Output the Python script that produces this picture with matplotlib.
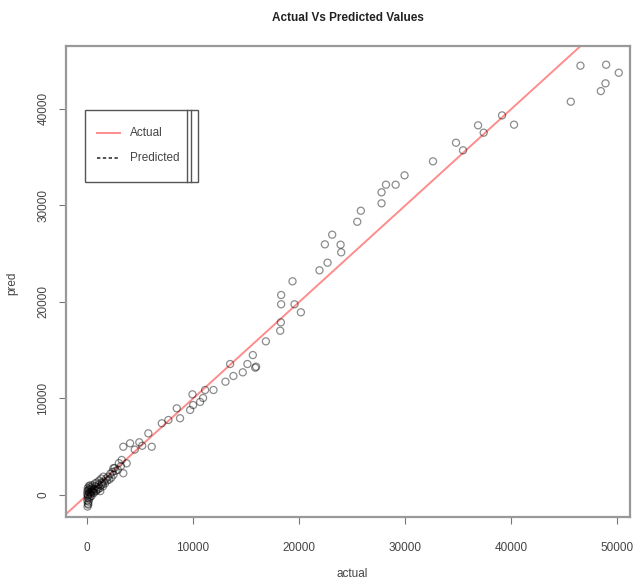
import matplotlib
matplotlib.use("Agg")
import matplotlib.pyplot as plt
from matplotlib.lines import Line2D
from matplotlib.patches import Rectangle

plt.rcParams["font.family"] = ["Liberation Sans", "DejaVu Sans"]

# ───── DATA ───────────────────────────────────────────────────
# low-value cluster near the origin
actual_low = [50, 80, 120, 30, 150, 200, 60, 100, 250, 300, 180, 400, 350, 500,
              450, 600, 700, 800, 650, 900, 1000, 1100, 1200, 1300, 1400, 1500,
              1600, 1700, 1800, 1900, 2000, 2100, 2200, 2300, 2400, 2500, 2600,
              2700, 20, 40, 70, 90, 130, 160, 220, 280, 320, 380, 420, 520, 560,
              750, 850, 950, 1050, 1150, 1250, 1350, 1450, 1550]
pred_low = [-1200, -900, -1000, -600, -700, -400, -300, 0, 200, -200, 300, 500,
            100, 400, 700, 300, 600, 900, 200, 500, 800, 1100, 700, 1000, 1300,
            900, 1400, 1200, 1700, 1500, 1900, 1600, 2200, 1800, 2400, 2100, 2800,
            2500, 100, 400, 700, -100, 500, 900, 600, 1000, 800, 300, -100, 1000,
            600, 1200, 400, 1300, 600, 1500, 400, 1700, 1100, 1900]

# mid and high range
actual_high = [2480, 3420, 3740, 3270, 3420, 4060, 4930, 6100, 5780, 7050, 7670,
               8770, 8460, 3000, 2900, 3200, 4500, 5200,
               9720, 10000, 10660, 10940, 9940, 11130, 11920, 13050, 13800, 14680,
               13490, 15120, 15940, 15850, 15630, 16860, 18210, 18270, 20160,
               19560, 18300, 18300, 19370, 21910, 22670, 23960, 23900, 22420,
               23110, 25470, 25810, 27760, 27760, 28180, 29090, 29930, 32610,
               35440, 34780, 37390, 36860, 40250, 39120, 45600, 48430, 48870,
               50120, 48930, 46510]
pred_high = [2770, 2250, 3280, 3630, 5000, 5360, 5460, 5000, 6390, 7430, 7770,
             7950, 8980, 3300, 2600, 3000, 4700, 5100,
             8810, 9320, 9640, 10050, 10430, 10880, 10880, 11740, 12330, 12710,
             13570, 13570, 13290, 13190, 14500, 15920, 17020, 17890, 18930,
             19760, 19760, 20720, 22140, 23280, 24070, 25140, 25930, 25970,
             26970, 28310, 29450, 30220, 31360, 32150, 32150, 33120, 34570,
             35710, 36500, 37540, 38300, 38370, 39330, 40750, 41850, 42650,
             43750, 44580, 44480]

actual = actual_low + actual_high
pred = pred_low + pred_high

x_ticks = [0, 10000, 20000, 30000, 40000, 50000]
y_ticks = [0, 10000, 20000, 30000, 40000]
legend_labels = ["Actual", "Predicted"]
# ───────────────────────────────────────────────────────────────

W, H = 637, 581
fig = plt.figure(figsize=(W / 100, H / 100), dpi=100)
ax = fig.add_axes([66 / W, 1 - 517 / H, (630 - 66) / W, (517 - 46) / H])

ax.scatter(actual, pred, s=26, facecolors="none", edgecolors="black",
           linewidths=0.9, alpha=0.45, zorder=3)

# identity line: predicted == actual
ax.axline((0, 0), slope=1, color="#ff8c8c", lw=1.4, zorder=2)

ax.set_xlim(-1980, 51180)
ax.set_ylim(-2280, 46520)
ax.set_xticks(x_ticks)
ax.set_yticks(y_ticks)
ax.set_xticklabels([str(t) for t in x_ticks])
ax.set_yticklabels([str(t) for t in y_ticks], rotation=90, va="center")
ax.tick_params(direction="out", length=5, width=0.8, color="#777777",
               labelsize=8.5, labelcolor="#444444")
ax.tick_params(axis="x", pad=13)
ax.tick_params(axis="y", pad=7)

for sp in ax.spines.values():
    sp.set_color("#999999")
    sp.set_linewidth(1.6)

fig.text(348 / W, 1 - 18 / H, "Actual Vs Predicted Values", ha="center",
         va="center", fontsize=8.5, fontweight="bold", color="#222222")
fig.text(352 / W, 1 - 574 / H, "actual", ha="center", va="center",
         fontsize=8.5, color="#444444")
fig.text(12 / W, 1 - 283 / H, "pred", ha="center", va="center", rotation=90,
         fontsize=8.5, color="#444444")

# legend box, drawn in figure pixels
def px(x, y):
    return x / W, 1 - y / H

fig.add_artist(Rectangle(px(85, 182), (198 - 85) / W, (182 - 110) / H,
                         transform=fig.transFigure, facecolor="white",
                         edgecolor="#555555", lw=1.0, zorder=5))
for xp in (187, 191):
    fig.add_artist(Line2D([xp / W, xp / W], [1 - 110 / H, 1 - 182 / H],
                          color="#555555", lw=1.0, zorder=6))

fig.add_artist(Line2D([97 / W, 120 / W], [1 - 133 / H, 1 - 133 / H],
                      color="#ff8c8c", lw=1.4, zorder=6))
fig.add_artist(Line2D([97 / W, 120 / W], [1 - 158 / H, 1 - 158 / H],
                      color="#333333", lw=1.2, ls=(0, (2, 1.5)), zorder=6))
for yp, lab in zip((133, 158), legend_labels):
    fig.text(130 / W, 1 - yp / H, lab, ha="left", va="center", fontsize=8.5,
             color="#444444", zorder=7)

fig.savefig("out.png", dpi=100)
